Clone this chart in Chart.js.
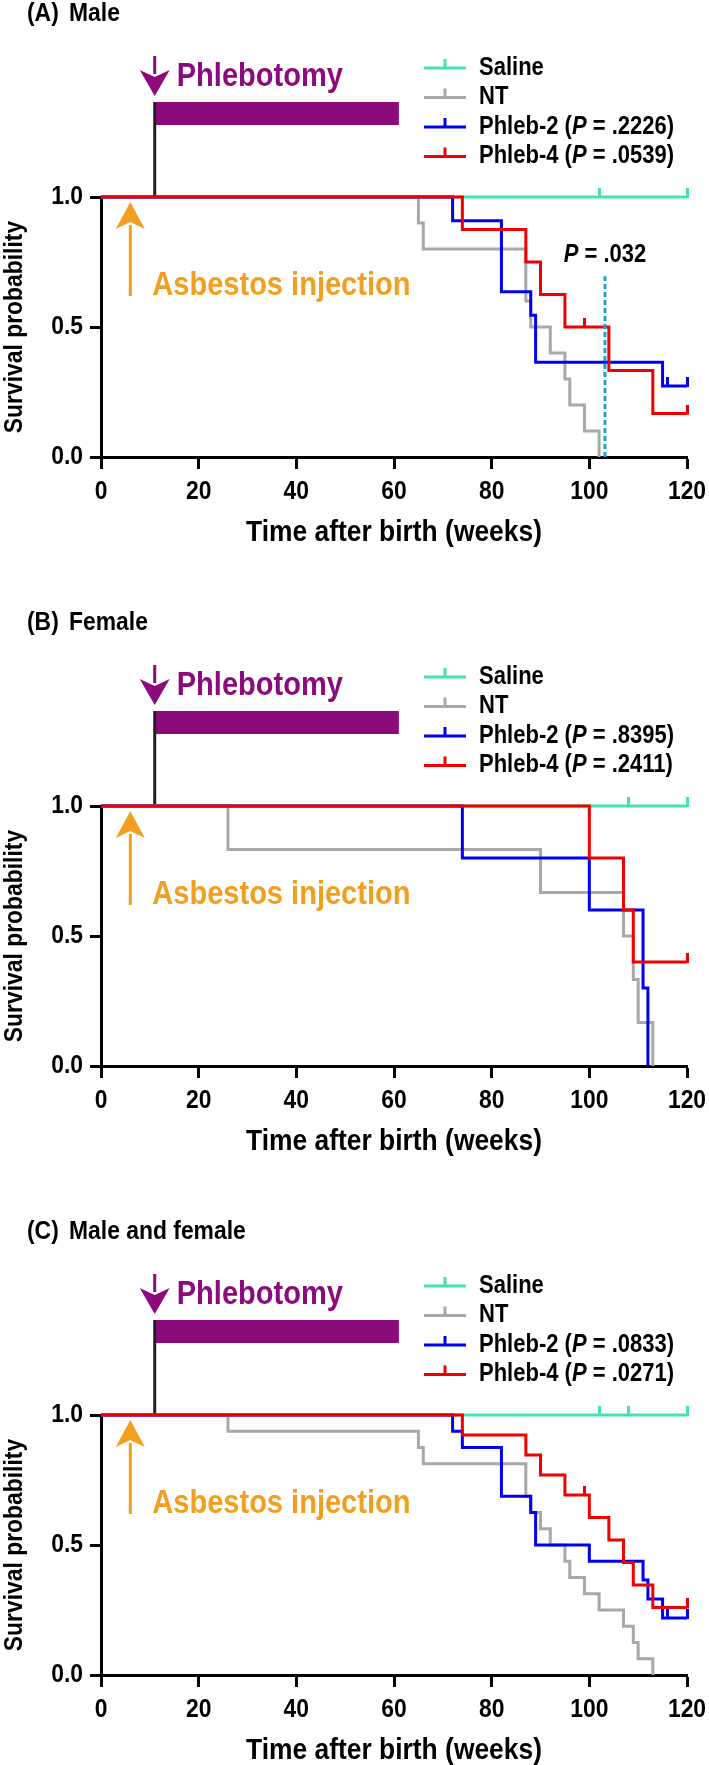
<!DOCTYPE html>
<html>
<head>
<meta charset="utf-8">
<title>Survival after phlebotomy</title>
<script src="https://cdn.jsdelivr.net/npm/chart.js@4.4.0/dist/chart.umd.min.js"></script>
<style>
  body { margin: 0; background: #fff; overflow: hidden; }
  .panel { position: absolute; left: 0; width: 709px; height: 609px; }
</style>
</head>
<body>
<div class="panel" style="top:0px"><canvas id="chartA" width="709" height="609"></canvas></div>
<div class="panel" style="top:609px"><canvas id="chartB" width="709" height="609"></canvas></div>
<div class="panel" style="top:1218px"><canvas id="chartC" width="709" height="609"></canvas></div>
<script>
var FONT = "'Liberation Sans', Arial, sans-serif";
var SX = 0.88; // horizontal squeeze, the original uses a narrow face

var weekTicks = [0, 20, 40, 60, 80, 100, 120];
var survTicks = [0, 0.5, 1];
var groupNames = ['Saline', 'NT', 'Phleb-2', 'Phleb-4'];
var phlebotomyWeeks = [11, 61];
var asbestosWeek = 6;

// (A) Male
var maleSalineWeeks = [0, 120];
var maleSalineSurv = [1, 1];
var maleSalineCensorWeeks = [102, 120];
var maleSalineCensorSurv = [1, 1];
var maleNTWeeks = [0, 65, 66, 87, 88, 92, 95, 96, 99, 102];
var maleNTSurv = [1, 0.9, 0.8, 0.6, 0.5, 0.4, 0.3, 0.2, 0.1, 0];
var malePhleb2Weeks = [0, 72, 82, 88, 89, 115, 120];
var malePhleb2Surv = [1, 0.909, 0.636, 0.545, 0.364, 0.273, 0.273];
var malePhleb2CensorWeeks = [116, 120];
var malePhleb2CensorSurv = [0.273, 0.273];
var malePhleb4Weeks = [0, 74, 87, 90, 95, 104, 113, 120];
var malePhleb4Surv = [1, 0.875, 0.75, 0.625, 0.5, 0.333, 0.167, 0.167];
var malePhleb4CensorWeeks = [99, 120];
var malePhleb4CensorSurv = [0.5, 0.167];
var malePValues = [null, null, '.2226', '.0539'];
var maleLogRankWeek = 103.2;
var maleLogRankTop = 0.695;
var maleLogRankP = '.032';

// (B) Female
var femaleSalineWeeks = [0, 120];
var femaleSalineSurv = [1, 1];
var femaleSalineCensorWeeks = [108, 120];
var femaleSalineCensorSurv = [1, 1];
var femaleNTWeeks = [0, 26, 90, 107, 109, 110, 113];
var femaleNTSurv = [1, 0.833, 0.667, 0.5, 0.333, 0.167, 0];
var femalePhleb2Weeks = [0, 74, 100, 111, 112];
var femalePhleb2Surv = [1, 0.8, 0.6, 0.3, 0];
var femalePhleb4Weeks = [0, 100, 107, 109, 120];
var femalePhleb4Surv = [1, 0.8, 0.6, 0.4, 0.4];
var femalePhleb4CensorWeeks = [120];
var femalePhleb4CensorSurv = [0.4];
var femalePValues = [null, null, '.8395', '.2411'];

// (C) Male and female
var allSalineWeeks = [0, 120];
var allSalineSurv = [1, 1];
var allSalineCensorWeeks = [102, 108, 120];
var allSalineCensorSurv = [1, 1, 1];
var allNTWeeks = [0, 26, 65, 66, 87, 88, 90, 92, 95, 96, 99, 102, 107, 109, 110, 113];
var allNTSurv = [1, 0.9375, 0.875, 0.8125, 0.6875, 0.625, 0.5625, 0.5, 0.4375, 0.375, 0.3125, 0.25, 0.1875, 0.125, 0.0625, 0];
var allPhleb2Weeks = [0, 72, 74, 82, 88, 89, 100, 111, 112, 115, 120];
var allPhleb2Surv = [1, 0.9375, 0.875, 0.6875, 0.625, 0.5, 0.4375, 0.365, 0.292, 0.219, 0.219];
var allPhleb2CensorWeeks = [116, 120];
var allPhleb2CensorSurv = [0.219, 0.219];
var allPhleb4Weeks = [0, 74, 87, 90, 95, 100, 104, 107, 109, 113, 120];
var allPhleb4Surv = [1, 0.923, 0.846, 0.769, 0.692, 0.606, 0.519, 0.433, 0.346, 0.26, 0.26];
var allPhleb4CensorWeeks = [99, 120];
var allPhleb4CensorSurv = [0.692, 0.26];
var allPValues = [null, null, '.0833', '.0271'];

var lineColors = ['#45E2AC', '#A8A8A8', '#0000F0', '#F00000'];
var PURPLE = '#8C0A7C';
var ORANGE = '#F29E1E';

function pts(xs, ys) {
  return xs.map(function(x, i) { return {x: x, y: ys[i]}; });
}

// censor tick: short stroke going up from the curve
function censorMark(color) {
  var c = document.createElement('canvas');
  c.width = 3; c.height = 18;
  var g = c.getContext('2d');
  g.fillStyle = color;
  g.fillRect(0, 0, 3, 10);
  return c;
}

function fontStr(size, italic) {
  return (italic ? 'italic ' : '') + 'bold ' + size + 'px ' + FONT;
}

function textW(ctx, s, size, italic) {
  ctx.font = fontStr(size, italic);
  return ctx.measureText(s).width * SX;
}

function drawText(ctx, s, x, y, size, align, italic, rot) {
  ctx.save();
  ctx.translate(x, y);
  if (rot) ctx.rotate(rot);
  ctx.scale(SX, 1);
  ctx.font = fontStr(size, italic);
  ctx.textAlign = align;
  ctx.textBaseline = 'middle';
  ctx.fillText(s, 0, 0);
  ctx.restore();
}

// parts: [text, italic]
function drawRich(ctx, parts, x, y, size) {
  parts.forEach(function(p) {
    drawText(ctx, p[0], x, y, size, 'left', p[1]);
    x += textW(ctx, p[0], size, p[1]);
  });
}

function arrow(ctx, x, yFrom, yTip, headLen, halfW, color) {
  var dir = yTip > yFrom ? 1 : -1;
  var back = yTip - dir * headLen;
  ctx.strokeStyle = color;
  ctx.fillStyle = color;
  ctx.lineWidth = 3;
  ctx.beginPath();
  ctx.moveTo(x, yFrom);
  ctx.lineTo(x, back + dir * 4);
  ctx.stroke();
  ctx.beginPath();
  ctx.moveTo(x, yTip);
  ctx.lineTo(x - halfW, back);
  ctx.lineTo(x, back + dir * 7);
  ctx.lineTo(x + halfW, back);
  ctx.closePath();
  ctx.fill();
}

function makeAnnotations(panel) {
  return {
    id: 'annotate',
    beforeDatasetsDraw: function(chart) {
      var ctx = chart.ctx;
      var xs = chart.scales.x;
      var ys = chart.scales.y;
      var area = chart.chartArea;
      var top = area.top;
      ctx.save();

      // panel title
      ctx.fillStyle = '#000';
      drawText(ctx, panel.tag, 27, 14, 26, 'left');
      drawText(ctx, panel.title, 69, 14, 26, 'left');

      // axis labels and titles
      weekTicks.forEach(function(v) {
        drawText(ctx, String(v), xs.getPixelForValue(v), 492, 26, 'center');
      });
      survTicks.forEach(function(v) {
        drawText(ctx, v.toFixed(1), 83, ys.getPixelForValue(v), 26, 'right');
      });
      drawText(ctx, 'Time after birth (weeks)', (area.left + area.right) / 2, 533, 30, 'center');
      drawText(ctx, 'Survival probability', 15, (area.top + area.bottom) / 2, 26, 'center', false, -Math.PI / 2);

      // phlebotomy period
      var x1 = xs.getPixelForValue(phlebotomyWeeks[0]);
      var x2 = xs.getPixelForValue(phlebotomyWeeks[1]);
      ctx.fillStyle = PURPLE;
      ctx.fillRect(x1, top - 95, x2 - x1, 23);
      ctx.strokeStyle = '#231F20';
      ctx.lineWidth = 3;
      ctx.beginPath();
      ctx.moveTo(x1, top);
      ctx.lineTo(x1, top - 95);
      ctx.stroke();
      arrow(ctx, x1, top - 141, top - 101, 26, 15, PURPLE);
      ctx.fillStyle = PURPLE;
      drawText(ctx, 'Phlebotomy', x1 + 22, top - 120, 33, 'left');

      // asbestos injection
      var xa = xs.getPixelForValue(asbestosWeek);
      arrow(ctx, xa, top + 99, top + 5, 27, 14.5, ORANGE);
      ctx.fillStyle = ORANGE;
      drawText(ctx, 'Asbestos injection', xa + 22, top + 89, 33, 'left');

      // legend
      for (var i = 0; i < groupNames.length; i++) {
        var ly = top - 129 + i * 29.5;
        ctx.strokeStyle = lineColors[i];
        ctx.lineWidth = 3;
        ctx.beginPath();
        ctx.moveTo(424, ly);
        ctx.lineTo(466, ly);
        ctx.moveTo(445, ly + 1);
        ctx.lineTo(445, ly - 9);
        ctx.stroke();
        ctx.fillStyle = '#000';
        var parts = [[groupNames[i], false]];
        if (panel.pValues[i]) {
          parts = [[groupNames[i] + ' (', false], ['P', true], [' = ' + panel.pValues[i] + ')', false]];
        }
        drawRich(ctx, parts, 479, ly, 25);
      }

      // log-rank label
      if (panel.logRank) {
        var lp = [['P', true], [' = ' + panel.logRank.p, false]];
        var lw = textW(ctx, lp[0][0], 25, true) + textW(ctx, lp[1][0], 25, false);
        ctx.fillStyle = '#000';
        drawRich(ctx, lp, xs.getPixelForValue(panel.logRank.week) - lw / 2, top + 58, 25);
      }
      ctx.restore();
    }
  };
}

var panels = [
  {
    id: 'chartA', tag: '(A)', title: 'Male',
    weeks: [maleSalineWeeks, maleNTWeeks, malePhleb2Weeks, malePhleb4Weeks],
    surv: [maleSalineSurv, maleNTSurv, malePhleb2Surv, malePhleb4Surv],
    censorWeeks: [maleSalineCensorWeeks, [], malePhleb2CensorWeeks, malePhleb4CensorWeeks],
    censorSurv: [maleSalineCensorSurv, [], malePhleb2CensorSurv, malePhleb4CensorSurv],
    pValues: malePValues,
    logRank: {week: maleLogRankWeek, top: maleLogRankTop, p: maleLogRankP}
  },
  {
    id: 'chartB', tag: '(B)', title: 'Female',
    weeks: [femaleSalineWeeks, femaleNTWeeks, femalePhleb2Weeks, femalePhleb4Weeks],
    surv: [femaleSalineSurv, femaleNTSurv, femalePhleb2Surv, femalePhleb4Surv],
    censorWeeks: [femaleSalineCensorWeeks, [], [], femalePhleb4CensorWeeks],
    censorSurv: [femaleSalineCensorSurv, [], [], femalePhleb4CensorSurv],
    pValues: femalePValues,
    logRank: null
  },
  {
    id: 'chartC', tag: '(C)', title: 'Male and female',
    weeks: [allSalineWeeks, allNTWeeks, allPhleb2Weeks, allPhleb4Weeks],
    surv: [allSalineSurv, allNTSurv, allPhleb2Surv, allPhleb4Surv],
    censorWeeks: [allSalineCensorWeeks, [], allPhleb2CensorWeeks, allPhleb4CensorWeeks],
    censorSurv: [allSalineCensorSurv, [], allPhleb2CensorSurv, allPhleb4CensorSurv],
    pValues: allPValues,
    logRank: null
  }
];

Chart.defaults.font.family = FONT;
Chart.defaults.font.weight = 'bold';
Chart.defaults.color = '#000';

panels.forEach(function(panel) {
  var datasets = [];
  for (var i = 0; i < groupNames.length; i++) {
    datasets.push({
      label: groupNames[i],
      data: pts(panel.weeks[i], panel.surv[i]),
      stepped: 'before',
      borderColor: lineColors[i],
      borderWidth: 3,
      pointRadius: 0,
      fill: false,
      clip: false,
      order: 10 - 2 * i
    });
    if (panel.censorWeeks[i].length) {
      datasets.push({
        label: groupNames[i] + ' censored',
        data: pts(panel.censorWeeks[i], panel.censorSurv[i]),
        showLine: false,
        pointStyle: censorMark(lineColors[i]),
        pointRadius: 5,
        clip: false,
        order: 10 - 2 * i
      });
    }
  }
  if (panel.logRank) {
    datasets.push({
      label: 'log-rank',
      data: pts([panel.logRank.week, panel.logRank.week], [0, panel.logRank.top]),
      borderColor: '#1E9FE0',
      borderDash: [5, 3],
      borderWidth: 3,
      pointRadius: 0,
      clip: false,
      order: 3
    });
  }

  new Chart(document.getElementById(panel.id), {
    type: 'line',
    data: {datasets: datasets},
    options: {
      responsive: false,
      animation: false,
      layout: {padding: {top: 197, right: 22, left: 0, bottom: 0}},
      plugins: {legend: {display: false}, tooltip: {enabled: false}},
      scales: {
        x: {
          type: 'linear', min: 0, max: 120,
          afterBuildTicks: function(s) { s.ticks = weekTicks.map(function(v) { return {value: v}; }); },
          afterFit: function(s) { s.height = 152; },
          border: {color: '#000', width: 3},
          grid: {drawOnChartArea: false, drawTicks: true, tickLength: 12, tickWidth: 3, tickColor: '#000'},
          ticks: {display: false},
          title: {display: false}
        },
        y: {
          min: 0, max: 1,
          afterBuildTicks: function(s) { s.ticks = survTicks.map(function(v) { return {value: v}; }); },
          afterFit: function(s) { s.width = 101; },
          border: {color: '#000', width: 3},
          grid: {drawOnChartArea: false, drawTicks: true, tickLength: 11, tickWidth: 3, tickColor: '#000'},
          ticks: {display: false},
          title: {display: false}
        }
      }
    },
    plugins: [makeAnnotations(panel)]
  });
});
</script>
</body>
</html>
